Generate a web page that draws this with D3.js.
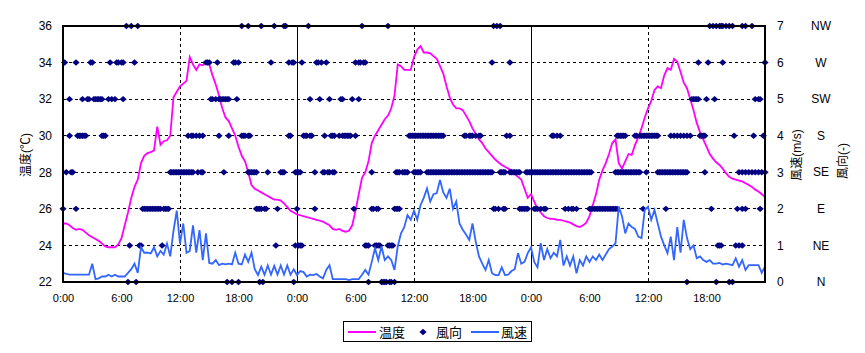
<!DOCTYPE html>
<html lang="ja">
    <head>
        <meta charset="utf-8">
        <title>温度・風向・風速</title>
        <script src="https://d3js.org/d3.v7.min.js"></script>
        <style type="text/css">
            body { margin: 0; background: #fff; }
            svg text { font-family: "Liberation Sans", "Noto Sans CJK JP", sans-serif; fill: #000; }
            .tick text { font-size: 12px; }
            .xaxis .tick text { font-size: 11px; }
            .title { font-size: 12px; }
            .legend text { font-size: 13px; }
        </style>
    </head>
    <body>
        <svg width="865" height="353"></svg>
        <script type="text/javascript">

            // temperature (℃), one value every 20 minutes, 3 days
            const temps = [
                25.2, 25.2, 25.1, 24.95, 24.85, 24.9, 24.85, 24.7, 24.55, 24.45, 24.35, 24.25,
                24.1, 23.95, 23.9, 23.9, 23.9, 24.05, 24.4, 25.1, 25.8, 26.6, 27.2, 27.6,
                28.5, 28.9, 29.05, 29.1, 29.2, 30.5, 29.5, 29.7, 29.75, 30.0, 32.1, 32.4,
                32.7, 32.85, 33.0, 34.3, 33.9, 33.6, 33.9, 33.85, 34.0, 33.9, 33.3, 32.8,
                32.2, 31.5, 31.0, 30.8, 30.4, 30.0, 29.4, 28.9, 28.6, 28.0, 27.3, 27.1,
                27.0, 26.9, 26.8, 26.7, 26.6, 26.5, 26.5, 26.45, 26.3, 26.1, 25.9, 25.8,
                25.7, 25.65, 25.6, 25.55, 25.5, 25.45, 25.4, 25.35, 25.3, 25.2, 25.1, 24.9,
                24.85, 24.9, 24.8, 24.75, 24.8, 25.1, 25.9, 26.8, 27.7, 28.0, 28.6, 29.6,
                30.0, 30.3, 30.6, 30.9, 31.1, 31.5, 32.2, 33.9, 33.8, 33.6, 33.6, 33.6,
                34.3, 34.7, 34.9, 34.55, 34.55, 34.5, 34.35, 34.2, 33.8, 33.4, 32.7, 32.1,
                31.7, 31.5, 31.5, 31.4, 31.1, 30.8, 30.4, 30.1, 29.8, 29.6, 29.3, 29.1,
                28.9, 28.7, 28.55, 28.4, 28.3, 28.2, 28.1, 27.9, 27.75, 27.6, 27.1, 26.6,
                26.8, 26.4, 26.0, 25.8, 25.6, 25.5, 25.45, 25.45, 25.4, 25.4, 25.35, 25.3,
                25.25, 25.15, 25.05, 25.0, 25.1, 25.25, 25.6, 26.2, 26.8, 27.6, 28.1, 28.5,
                29.0, 29.6, 29.8, 28.5, 28.2, 28.6, 29.0, 28.95, 29.5, 29.9, 30.4, 31.0,
                31.5, 31.9, 32.5, 32.7, 32.6, 33.3, 33.7, 33.6, 34.2, 34.05, 33.5, 32.9,
                32.6, 32.0, 31.4, 30.7, 30.2, 29.8, 29.4, 29.0, 28.75, 28.55, 28.4, 28.2,
                27.95, 27.75, 27.65, 27.6, 27.55, 27.5, 27.4, 27.3, 27.2, 27.05, 26.95, 26.8,
                26.65
            ];

            // wind speed (m/s), one value every 20 minutes
            const speeds = [
                0.25, 0.22, 0.2, 0.2, 0.2, 0.2, 0.2, 0.2, 0.2, 0.5, 0.08, 0.1,
                0.15, 0.15, 0.2, 0.15, 0.2, 0.15, 0.15, 0.15, 0.25, 0.35, 0.5, 0.25,
                0.95, 0.8, 0.8, 0.78, 0.95, 0.7, 0.85, 0.75, 1.05, 0.7, 1.4, 1.95,
                1.05, 1.6, 0.8, 0.85, 1.55, 0.8, 1.42, 0.6, 1.33, 0.52, 0.5, 0.6,
                0.46, 0.5, 0.48, 0.5, 0.48, 0.8, 0.5, 0.48, 0.75, 0.55, 0.8, 0.35,
                0.19, 0.42, 0.2, 0.45, 0.2, 0.44, 0.2, 0.45, 0.2, 0.45, 0.2, 0.35,
                0.19, 0.3, 0.27, 0.15, 0.2, 0.19, 0.22, 0.15, 0.1, 0.33, 0.46, 0.08,
                0.08, 0.08, 0.08, 0.08, 0.05, 0.08, 0.08, 0.08, 0.2, 0.33, 0.2, 0.55,
                0.92, 0.6, 0.97, 0.6, 0.7, 0.6, 0.33, 0.97, 1.33, 1.5, 1.83, 1.7,
                1.95, 1.7, 2.1, 2.3, 2.56, 2.2, 2.4, 2.43, 2.79, 2.45, 2.3, 2.55,
                2.0, 2.2, 1.6, 1.43, 1.3, 1.15, 1.6, 1.1, 0.7, 0.5, 0.33, 0.6,
                0.24, 0.19, 0.19, 0.4, 0.19, 0.2, 0.3, 0.35, 0.79, 0.5, 0.55, 0.79,
                0.95, 0.55, 0.4, 1.06, 0.6, 0.9, 0.65, 0.8, 0.7, 1.15, 0.45, 0.7,
                0.45, 0.7, 0.24, 0.6, 0.45, 0.7, 0.55, 0.7, 0.6, 0.75, 0.6, 0.75,
                0.9, 0.97, 1.06, 2.06, 1.8, 1.33, 1.6, 1.5, 1.45, 1.24, 1.2, 1.97,
                2.06, 1.7, 1.97, 1.6, 1.24, 1.0, 0.79, 1.24, 0.6, 1.5, 0.8, 1.7,
                1.2, 0.9, 1.0, 0.65, 0.7, 0.6, 0.55, 0.6, 0.5, 0.5, 0.52, 0.48,
                0.5, 0.48, 0.46, 0.65, 0.42, 0.6, 0.33, 0.46, 0.46, 0.46, 0.46, 0.25,
                0.42
            ];

            // wind direction: 10-minute slots (0..432) in which each direction was recorded
            const dirN = [40, 45, 101, 104, 108, 121, 123, 142, 188, 196, 197, 198, 199, 201, 202, 204,
                384, 402, 410, 412];
            const dirNE = [41, 47, 48, 61, 131, 143, 145, 146, 147, 186, 187, 188, 192, 193, 194, 195,
                200, 201, 202, 203, 403, 404, 405, 414, 416, 418];
            const dirE = [0, 8, 49, 50, 51, 52, 53, 54, 55, 56, 57, 58, 59, 60, 62, 63, 64, 65,
                119, 120, 121, 122, 124, 125, 132, 144, 155, 179, 190, 191, 193, 194, 204, 205, 206, 207,
                265, 266, 268, 271, 272, 281, 282, 283, 284, 285, 286, 290, 291, 292, 294, 296, 297,
                309, 311, 313, 314, 316, 324, 325, 326, 327, 328, 329, 330, 331, 332, 333, 334, 335,
                336, 337, 338, 339, 340, 341, 357, 371, 399, 415, 418, 420, 429];
            const dirSE = [2, 5, 6, 66, 67, 68, 69, 70, 71, 72, 73, 74, 75, 76, 77, 78, 79, 80,
                83, 85, 86, 99, 114, 115, 116, 117, 118, 119, 126, 134, 135, 136, 143, 144, 145, 146,
                155, 160, 161, 163, 164, 166, 167, 190, 205, 206, 207, 209, 210, 211, 212,
                216, 217, 218, 219, 220, 224, 225, 226, 227, 228, 229, 230, 231, 232, 233, 234, 235,
                236, 237, 238, 239, 240, 241, 242, 243, 244, 245, 246, 247, 248, 249, 250, 251, 252,
                253, 254, 255, 256, 257, 258, 259, 260, 261, 262, 263, 264, 269, 270, 271, 272,
                275, 276, 277, 278, 279, 280, 281, 285, 286, 287, 288, 289, 290, 291, 292, 293, 294,
                295, 296, 297, 298, 299, 300, 301, 302, 303, 304, 305, 306, 307, 308, 309, 310, 311,
                312, 313, 314, 315, 316, 317, 318, 319, 320, 321, 322, 323, 324, 325,
                340, 341, 342, 343, 344, 345, 346, 347, 348, 349, 350, 351, 352, 353, 354, 355, 359,
                366, 367, 368, 369, 370, 371, 372, 373, 374, 375, 376, 377, 378, 379, 380, 381, 382,
                383, 384, 395, 416, 418, 420, 422, 424, 426, 428, 430, 432];
            const dirS = [4, 9, 10, 11, 12, 13, 14, 24, 25, 26, 77, 79, 80, 82, 84, 86, 96, 102,
                110, 111, 112, 114, 115, 139, 140, 148, 149, 150, 152, 153, 161, 165, 166, 167, 170,
                172, 173, 174, 175, 176, 177, 180, 213, 214, 215, 216, 217, 218, 219, 220, 221, 222,
                223, 224, 225, 226, 227, 228, 229, 230, 231, 232, 233, 234, 247, 248, 250, 251, 252,
                254, 256, 257, 273, 275, 301, 302, 304, 306, 341, 342, 343, 344, 345, 346,
                352, 353, 355, 356, 357, 358, 359, 360, 361, 362, 363, 364, 365, 366,
                374, 376, 378, 380, 382, 384, 386, 392, 393, 394, 395, 413, 425, 431];
            const dirSW = [4, 12, 15, 16, 19, 20, 21, 22, 23, 24, 28, 30, 32, 37, 91, 92, 94, 96, 97,
                98, 99, 100, 101, 102, 107, 152, 158, 164, 171, 172, 178, 182, 387, 388, 389, 390,
                391, 396, 401, 426, 428, 429];
            const dirW = [1, 8, 17, 18, 29, 33, 34, 36, 37, 44, 88, 89, 90, 95, 105, 106, 108, 128,
                139, 141, 142, 147, 156, 157, 159, 162, 180, 182, 183, 185, 186, 264, 275, 391, 397,
                406, 432];
            const dirNW = [39, 42, 46, 110, 114, 122, 130, 136, 137, 151, 184, 200, 265, 267, 269,
                398, 400, 402, 404, 405, 406, 408, 410, 412, 418, 420, 424];

            const dirNames = ["N", "NE", "E", "SE", "S", "SW", "W", "NW"];
            const dirSlots = [dirN, dirNE, dirE, dirSE, dirS, dirSW, dirW, dirNW];

            const tempTicks = [22, 24, 26, 28, 30, 32, 34, 36];
            const speedTicks = [0, 1, 2, 3, 4, 5, 6, 7];
            const hourTicks = [0, 6, 12, 18, 24, 30, 36, 42, 48, 54, 60, 66];
            const timeLabels = ["0:00", "6:00", "12:00", "18:00", "0:00", "6:00", "12:00", "18:00",
                "0:00", "6:00", "12:00", "18:00"];
            const noonLines = [12, 36, 60];
            const midnightLines = [24, 48];

            const svg = d3.select("svg");
            const plotL = 63, plotR = 765, plotT = 26, plotB = 282;

            const x = d3.scaleLinear().domain([0, 72]).range([plotL, plotR]);
            const yT = d3.scaleLinear().domain([22, 36]).range([plotB, plotT]);
            const yW = d3.scaleLinear().domain([0, 7]).range([plotB, plotT]);

            //gridlines
            svg.append("g").selectAll("line")
               .data(tempTicks.slice(1, -1))
               .enter().append("line")
               .attr("x1", plotL).attr("x2", plotR)
               .attr("y1", d => yT(d)).attr("y2", d => yT(d))
               .attr("stroke", "#000").attr("stroke-width", 1)
               .attr("stroke-dasharray", "3,3")
               .attr("shape-rendering", "crispEdges");

            svg.append("g").selectAll("line")
               .data(noonLines)
               .enter().append("line")
               .attr("x1", d => x(d)).attr("x2", d => x(d))
               .attr("y1", plotT).attr("y2", plotB)
               .attr("stroke", "#000").attr("stroke-width", 1)
               .attr("stroke-dasharray", "3,3")
               .attr("shape-rendering", "crispEdges");

            svg.append("g").selectAll("line")
               .data(midnightLines)
               .enter().append("line")
               .attr("x1", d => x(d)).attr("x2", d => x(d))
               .attr("y1", plotT).attr("y2", plotB)
               .attr("stroke", "#000").attr("stroke-width", 1)
               .attr("shape-rendering", "crispEdges");

            //temperature
            const tempLine = d3.line()
                               .x((d, i) => x(i / 3))
                               .y(d => yT(d));
            svg.append("path")
               .datum(temps)
               .attr("fill", "none")
               .attr("stroke", "#ff00ff")
               .attr("stroke-width", 1.8)
               .attr("d", tempLine);

            //wind direction
            const diamond = "M0,-3.2L3.6,0L0,3.2L-3.6,0Z";
            const dirPoints = [];
            dirSlots.forEach((slots, k) => slots.forEach(s => dirPoints.push({ h: s / 6, dir: k })));
            svg.append("g").selectAll("path")
               .data(dirPoints)
               .enter().append("path")
               .attr("d", diamond)
               .attr("transform", d => "translate(" + x(d.h) + "," + yW(d.dir) + ")")
               .attr("fill", "#000080");

            //wind speed
            const speedLine = d3.line()
                                .x((d, i) => x(i / 3))
                                .y(d => yW(d));
            svg.append("path")
               .datum(speeds)
               .attr("fill", "none")
               .attr("stroke", "#3366ff")
               .attr("stroke-width", 1.8)
               .attr("d", speedLine);

            //frame
            svg.append("rect")
               .attr("x", plotL).attr("y", plotT)
               .attr("width", plotR - plotL).attr("height", plotB - plotT)
               .attr("fill", "none")
               .attr("stroke", "#000")
               .attr("stroke-width", 2);

            //axes
            svg.append("g")
               .attr("transform", "translate(" + plotL + ",0)")
               .call(d3.axisLeft(yT).tickValues(tempTicks).tickSize(0).tickPadding(11))
               .call(g => g.select(".domain").remove());

            svg.append("g")
               .attr("transform", "translate(" + (plotR + 1) + ",0)")
               .call(d3.axisRight(yW).tickValues(speedTicks).tickFormat(d3.format("d"))
                      .tickSize(0).tickPadding(11))
               .call(g => g.select(".domain").remove());

            svg.append("g")
               .attr("class", "xaxis")
               .attr("transform", "translate(0," + plotB + ")")
               .call(d3.axisBottom(x).tickValues(hourTicks)
                      .tickFormat((d, i) => timeLabels[i]).tickSize(0).tickPadding(12))
               .call(g => g.select(".domain").remove());

            //direction labels
            svg.append("g").selectAll("text")
               .data(dirNames)
               .enter().append("text")
               .attr("x", 821)
               .attr("y", (d, i) => yW(speedTicks[i]))
               .attr("dy", "0.35em")
               .attr("text-anchor", "middle")
               .attr("font-size", "12px")
               .text(d => d);

            //axis titles
            svg.append("text")
               .attr("class", "title")
               .attr("transform", "translate(30,155) rotate(-90)")
               .attr("text-anchor", "middle")
               .text("温度(℃)");
            svg.append("text")
               .attr("class", "title")
               .attr("transform", "translate(801,155) rotate(-90)")
               .attr("text-anchor", "middle")
               .text("風速(m/s)");
            svg.append("text")
               .attr("class", "title")
               .attr("transform", "translate(847,161) rotate(-90)")
               .attr("text-anchor", "middle")
               .text("風向(-)");

            //legend
            const legend = svg.append("g").attr("class", "legend");
            legend.append("rect")
                  .attr("x", 343.5).attr("y", 321.5)
                  .attr("width", 188).attr("height", 20)
                  .attr("fill", "#fff").attr("stroke", "#000").attr("stroke-width", 1);
            legend.append("line")
                  .attr("x1", 348).attr("x2", 376).attr("y1", 332).attr("y2", 332)
                  .attr("stroke", "#ff00ff").attr("stroke-width", 2);
            legend.append("text").attr("x", 379).attr("y", 336.5).text("温度");
            legend.append("path")
                  .attr("d", diamond)
                  .attr("transform", "translate(423,332)")
                  .attr("fill", "#000080");
            legend.append("text").attr("x", 436).attr("y", 336.5).text("風向");
            legend.append("line")
                  .attr("x1", 471).attr("x2", 499).attr("y1", 332).attr("y2", 332)
                  .attr("stroke", "#3366ff").attr("stroke-width", 2);
            legend.append("text").attr("x", 501).attr("y", 336.5).text("風速");

        </script>
    </body>
</html>
